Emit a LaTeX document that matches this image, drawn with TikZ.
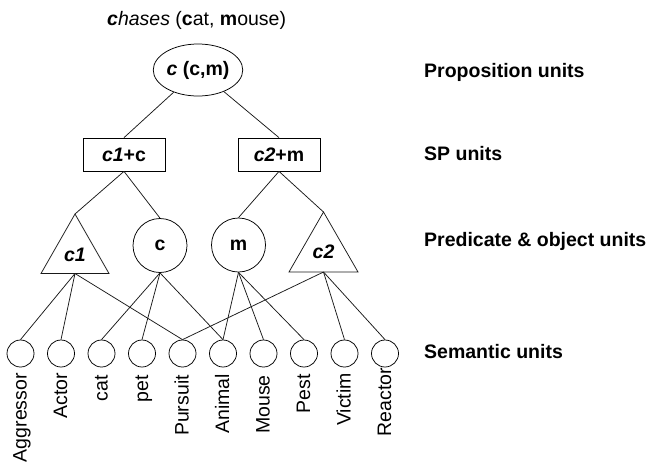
\documentclass[tikz,border=0pt]{standalone}
\usepackage{fontspec}
\setmainfont{Liberation Sans}
\usetikzlibrary{shapes.geometric}
\begin{document}
\begin{tikzpicture}[x=1pt,y=-1pt,
  every node/.style={font=\fontsize{19.5}{23}\selectfont},
  edge/.style={line width=0.75pt, draw=black!90},
  unitbox/.style={draw, line width=0.75pt, rectangle, minimum width=82pt, minimum height=33pt, inner sep=0pt},
  unitcirc/.style={draw, line width=0.75pt, circle, minimum size=54pt, inner sep=0pt},
  semcirc/.style={draw, line width=0.75pt, circle, minimum size=27pt, inner sep=0pt},
  semlabel/.style={rotate=90, anchor=base east, inner sep=0pt},
  levellabel/.style={anchor=base west, inner sep=0pt, font=\fontsize{19.5}{23}\selectfont\bfseries}
]
\useasboundingbox (0,0) rectangle (652,466);

% title
\node[anchor=base west, inner sep=0pt] (title) at (107,25) {\textbf{\textit{c}}\textit{hases} (\textbf{c}at, \textbf{m}ouse)};

% proposition unit
\node[draw, ellipse, line width=0.75pt, minimum width=89.5pt, minimum height=52pt, inner sep=0pt] (prop) at (198,70) {\textbf{\textit{c} (c,m)}};

% SP units
\node[unitbox] (sp1) at (124,154.5) {\textbf{\textit{c1}+c}};
\node[unitbox] (sp2) at (279,154.5) {\textbf{\textit{c2}+m}};

% triangles
\coordinate (t1apex) at (75,214);
\coordinate (t1base) at (75,273.5);
\draw[edge] (t1apex) -- (41,273.5) -- (109,273.5) -- cycle;
\node (t1) at (75,255) {\textbf{\textit{c1}}};
\coordinate (t2apex) at (323.5,212);
\coordinate (t2base) at (323.5,272);
\draw[edge] (t2apex) -- (289,272) -- (358,272) -- cycle;
\node (t2) at (323.5,252) {\textbf{\textit{c2}}};

% object circles
\node[unitcirc] (oc) at (160,245.5) {\textbf{c}};
\node[unitcirc] (om) at (238.5,245) {\textbf{m}};

% semantic units
\foreach \n [count=\i from 0] in {s0,s1,s2,s3,s4,s5,s6,s7,s8,s9}{
  \node[semcirc] (\n) at ({20.5+40.5*\i},353.5) {};
}
\foreach \n/\lab/\yy [count=\i from 0] in {a0/Aggressor/373,a1/Actor/373,a2/cat/375,a3/pet/375,a4/Pursuit/375,a5/Animal/374,a6/Mouse/375,a7/Pest/374,a8/Victim/373,a9/Reactor/368}{
  \node[semlabel] (\n) at ({26.5+40.5*\i},\yy) {\lab};
}

% level labels
\node[levellabel] (l1) at (424,77) {Proposition units};
\node[levellabel] (l2) at (424,160) {SP units};
\node[levellabel] (l3) at (424,246) {Predicate \& object units};
\node[levellabel] (l4) at (424,358) {Semantic units};

% connectors
\draw[edge] (prop) -- (sp1.north);
\draw[edge] (prop) -- (sp2.north);
\draw[edge] (sp1.south) -- (t1apex);
\draw[edge] (sp1.south) -- (oc.north);
\draw[edge] (sp2.south) -- (om.north);
\draw[edge] (sp2.south) -- (t2apex);

\draw[edge] (t1base) -- (s0.north);
\draw[edge] (t1base) -- (s1.north);
\draw[edge] (t1base) -- (s4.north);
\draw[edge] (oc.south) -- (s2.north);
\draw[edge] (oc.south) -- (s3.north);
\draw[edge] (oc.south) -- (s5.north);
\draw[edge] (om.south) -- (s5.north);
\draw[edge] (om.south) -- (s6.north);
\draw[edge] (om.south) -- (s7.north);
\draw[edge] (t2base) -- (s4.north);
\draw[edge] (t2base) -- (s8.north);
\draw[edge] (t2base) -- (s9.north);
\end{tikzpicture}
\end{document}
